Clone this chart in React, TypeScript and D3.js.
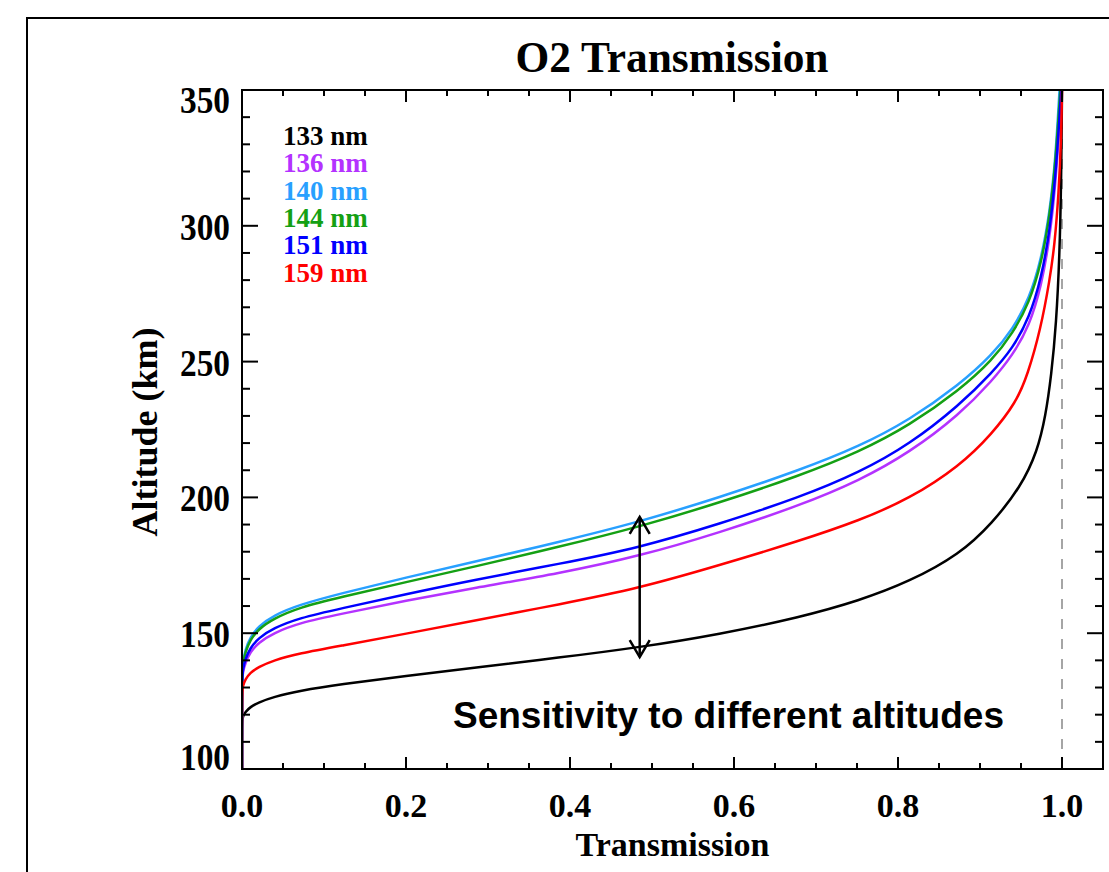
import React from "react";
import * as d3 from "d3";

// ---- Data (transmission, altitude km) ----
const wavelengths = ["133 nm", "136 nm", "140 nm", "144 nm", "151 nm", "159 nm"];
const colors = ["#000000", "#b432ff", "#28a0ff", "#14a014", "#0000ff", "#ff0000"];

const curve133: [number, number][] = [
  [0, 100], [0, 117.5], [0.001, 119.3], [0.004, 121], [0.01, 122.8], [0.02, 124.5], [0.038, 126.5],
  [0.07, 128.8], [0.119, 131.2], [0.2, 134.2], [0.282, 137.3], [0.387, 141], [0.485, 144.8],
  [0.582, 149.6], [0.68, 155.8], [0.753, 162], [0.814, 169], [0.875, 179], [0.915, 190.5],
  [0.95, 204], [0.97, 217], [0.98, 230], [0.987, 245], [0.993, 264], [0.997, 289], [0.999, 315],
  [1.0, 350],
];
const curve136: [number, number][] = [
  [0, 100], [0, 133], [0.001, 135.5], [0.004, 139], [0.01, 143], [0.02, 146.5], [0.038, 150],
  [0.07, 153.8], [0.119, 157], [0.2, 162], [0.282, 166.6], [0.387, 172], [0.485, 178.4],
  [0.582, 187], [0.68, 197], [0.753, 206.2], [0.814, 216.5], [0.875, 230.5], [0.915, 243],
  [0.94, 252.5], [0.96, 263], [0.975, 278], [0.985, 295.5], [0.992, 315], [0.997, 338], [1.0, 350],
];
const curve140: [number, number][] = [
  [0, 100], [0, 136], [0.001, 139], [0.004, 144], [0.01, 148.5], [0.02, 152.5], [0.038, 156.5],
  [0.07, 160.5], [0.119, 164.5], [0.2, 170.5], [0.282, 176.2], [0.387, 183.6], [0.485, 191],
  [0.582, 200], [0.68, 210], [0.753, 218.8], [0.814, 228.5], [0.875, 241.5], [0.915, 252.5],
  [0.94, 262], [0.96, 273], [0.975, 288], [0.985, 305], [0.992, 324], [0.997, 350],
];
const curve144: [number, number][] = [
  [0, 100], [0, 136], [0.001, 138.5], [0.004, 143], [0.01, 147.5], [0.02, 151.5], [0.038, 155.3],
  [0.07, 159.5], [0.119, 163.2], [0.2, 168.8], [0.282, 174.4], [0.387, 181.8], [0.485, 189.2],
  [0.582, 198], [0.68, 208], [0.753, 216.8], [0.814, 226.5], [0.875, 239.5], [0.915, 250.5],
  [0.94, 260.5], [0.96, 271.5], [0.975, 286.5], [0.985, 303.5], [0.992, 322.5], [0.998, 350],
];
const curve151: [number, number][] = [
  [0, 100], [0, 134], [0.001, 136.5], [0.004, 140.5], [0.01, 144.5], [0.02, 148.2], [0.038, 151.8],
  [0.07, 155.6], [0.119, 159], [0.2, 164.4], [0.282, 169.6], [0.387, 175.5], [0.485, 181.5],
  [0.582, 190.2], [0.68, 200], [0.753, 209.2], [0.814, 219.5], [0.875, 234], [0.915, 246],
  [0.94, 255], [0.96, 266], [0.975, 281], [0.985, 298], [0.992, 318], [0.997, 340], [0.999, 350],
];
const curve159: [number, number][] = [
  [0, 100], [0, 128.5], [0.001, 130.5], [0.004, 133], [0.01, 135.5], [0.02, 137.5], [0.038, 140],
  [0.07, 142.6], [0.119, 145.3], [0.2, 149.8], [0.282, 154.6], [0.387, 160.6], [0.485, 166.6],
  [0.582, 175], [0.68, 184], [0.753, 191.5], [0.814, 199.5], [0.875, 211.5], [0.915, 223.5],
  [0.944, 235], [0.958, 245], [0.974, 262], [0.985, 280], [0.991, 293], [0.996, 312], [0.999, 332],
  [1.0, 350],
];
const curves = [curve133, curve136, curve140, curve144, curve151, curve159];

const xTicksMajor = [0, 0.2, 0.4, 0.6, 0.8, 1.0];
const xTickLabels = ["0.0", "0.2", "0.4", "0.6", "0.8", "1.0"];
const yTicksMajor = [100, 150, 200, 250, 300, 350];
const yTickLabels = ["100", "150", "200", "250", "300", "350"];

const titleText = "O2 Transmission";
const xTitle = "Transmission";
const yTitle = "Altitude (km)";
const annotation = "Sensitivity to different altitudes";
const arrowT = 0.485;
const arrowTop = 192.8;
const arrowBottom = 141.2;

export default function App() {
  const W = 1109, H = 872;
  const left = 242, right = 1103, top = 90, bottom = 769;
  const x = d3.scaleLinear().domain([0, 1.05]).range([left, right]);
  const y = d3.scaleLinear().domain([100, 350]).range([bottom, top]);
  const line = d3.line<[number, number]>()
    .x((d) => x(d[0]))
    .y((d) => y(d[1]))
    .curve(d3.curveBasis);

  const xMinor = d3.range(0, 1.05 + 1e-9, 0.05);
  const yMinor = d3.range(100, 350 + 1e-9, 10);
  const serif = "'Liberation Serif', 'Times New Roman', serif";

  return (
    <svg width={W} height={H} style={{ position: "absolute", left: 0, top: 0, background: "#fff" }}>
      <rect x={0} y={0} width={W} height={H} fill="#fff" />
      {/* outer frame */}
      <rect x={27} y={18} width={W + 20} height={H + 20} fill="none" stroke="#000" strokeWidth={2} />
      <defs>
        <clipPath id="plotclip">
          <rect x={left} y={top - 2} width={right - left} height={bottom - top + 4} />
        </clipPath>
      </defs>

      {/* title */}
      <text x={672} y={72} textAnchor="middle" fontFamily={serif} fontWeight="bold" fontSize={44}
        textLength={313} lengthAdjust="spacingAndGlyphs">{titleText}</text>

      {/* dashed line at T = 1 */}
      <line x1={x(1)} x2={x(1)} y1={bottom} y2={top} stroke="#888" strokeWidth={1.5} strokeDasharray="10,10" />

      {/* curves */}
      <g clipPath="url(#plotclip)">
        {curves.map((c, i) => (
          <path key={i} d={line(c) || ""} fill="none" stroke={colors[i]} strokeWidth={2.5} />
        ))}
      </g>

      {/* ticks */}
      {xMinor.map((v, i) => {
        const major = Math.abs(v / 0.2 - Math.round(v / 0.2)) < 1e-6;
        const len = major ? 12 : 6;
        return (
          <g key={"xt" + i}>
            <line x1={x(v)} x2={x(v)} y1={bottom} y2={bottom - len} stroke="#000" strokeWidth={2} />
            <line x1={x(v)} x2={x(v)} y1={top} y2={top + len} stroke="#000" strokeWidth={2} />
          </g>
        );
      })}
      {yMinor.map((v, i) => {
        const major = v % 50 === 0;
        const len = major ? 16 : 8;
        return (
          <g key={"yt" + i}>
            <line x1={left} x2={left + len} y1={y(v)} y2={y(v)} stroke="#000" strokeWidth={2} />
            <line x1={right} x2={right - len} y1={y(v)} y2={y(v)} stroke="#000" strokeWidth={2} />
          </g>
        );
      })}

      {/* axes frame */}
      <rect x={left} y={top} width={right - left} height={bottom - top} fill="none" stroke="#000" strokeWidth={2} />

      {/* tick labels */}
      {xTicksMajor.map((v, i) => (
        <text key={"xl" + i} x={x(v)} y={817} textAnchor="middle" fontFamily={serif} fontWeight="bold" fontSize={34}>
          {xTickLabels[i]}
        </text>
      ))}
      {yTicksMajor.map((v, i) => {
        const base = Math.min(Math.max(y(v) + 14, top + 23), bottom + 1);
        return (
          <text key={"yl" + i} x={230} y={base} textAnchor="end" fontFamily={serif} fontWeight="bold" fontSize={37}
            textLength={50} lengthAdjust="spacingAndGlyphs">
            {yTickLabels[i]}
          </text>
        );
      })}

      {/* axis titles */}
      <text x={(left + right) / 2} y={856} textAnchor="middle" fontFamily={serif} fontWeight="bold" fontSize={34}>
        {xTitle}
      </text>
      <text transform={`translate(157,${432}) rotate(-90)`} textAnchor="middle" fontFamily={serif} fontWeight="bold" fontSize={36}>
        {yTitle}
      </text>

      {/* legend */}
      {wavelengths.map((w, i) => (
        <text key={"lg" + i} x={283} y={145 + i * 27.3} fontFamily={serif} fontWeight="bold" fontSize={27} fill={colors[i]}>
          {w}
        </text>
      ))}

      {/* arrow */}
      <g stroke="#000" strokeWidth={2.5} fill="none">
        <line x1={x(arrowT)} x2={x(arrowT)} y1={y(arrowTop)} y2={y(arrowBottom)} />
        <polyline points={`${x(arrowT) - 10},${y(arrowTop) + 17} ${x(arrowT)},${y(arrowTop)} ${x(arrowT) + 10},${y(arrowTop) + 17}`} />
        <polyline points={`${x(arrowT) - 10},${y(arrowBottom) - 17} ${x(arrowT)},${y(arrowBottom)} ${x(arrowT) + 10},${y(arrowBottom) - 17}`} />
      </g>

      {/* annotation */}
      <text x={453} y={728} fontFamily="'Liberation Sans', Arial, sans-serif" fontWeight="bold" fontSize={37}>
        {annotation}
      </text>
    </svg>
  );
}
